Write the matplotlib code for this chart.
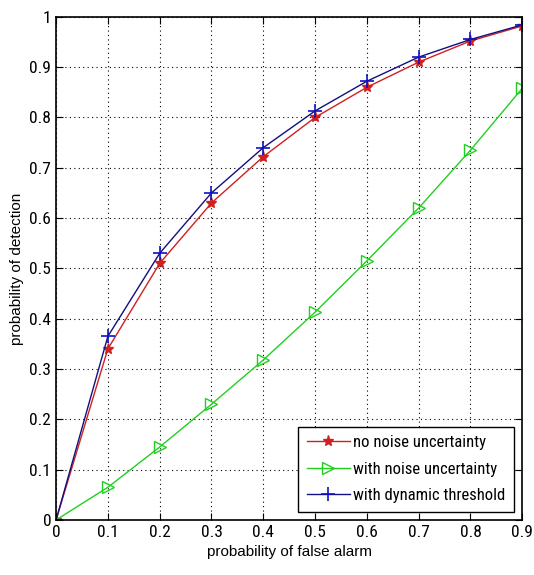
import matplotlib
matplotlib.use("Agg")
import matplotlib.pyplot as plt
from matplotlib import font_manager
import numpy as np

names = {f.name for f in font_manager.fontManager.ttflist}
narrow = None
for cand in ['Liberation Sans Narrow', 'DejaVu Sans Condensed', 'Roboto Condensed']:
    if cand in names:
        narrow = cand
        break
if narrow is None:
    narrow = 'Liberation Sans'
plt.rcParams['font.family'] = [narrow, 'DejaVu Sans']

pfa = [0, 0.1, 0.2, 0.3, 0.4, 0.5, 0.6, 0.7, 0.8, 0.9]
pd_no_noise = [0, 0.34, 0.51, 0.63, 0.722, 0.80, 0.86, 0.91, 0.952, 0.982]
pd_noise = [0, 0.065, 0.145, 0.23, 0.318, 0.413, 0.515, 0.62, 0.735, 0.858]
pd_dynamic = [0, 0.365, 0.53, 0.65, 0.74, 0.813, 0.872, 0.92, 0.955, 0.984]
xticks = [0, 0.1, 0.2, 0.3, 0.4, 0.5, 0.6, 0.7, 0.8, 0.9]
yticks = [0, 0.1, 0.2, 0.3, 0.4, 0.5, 0.6, 0.7, 0.8, 0.9, 1]

fig = plt.figure(figsize=(5.34, 5.75), dpi=100)
ax = fig.add_axes([0.105, 0.0957, 0.873, 0.875])

ax.plot(pfa, pd_no_noise, color='#d02020', lw=1, marker='*', ms=8, mec='#d02020',
        label='no noise uncertainty')
ax.plot(pfa, pd_noise, color='#20d020', lw=1, marker='>', ms=8, mfc='none', mec='#20d020',
        label='with noise uncertainty')
ax.plot(pfa, pd_dynamic, color='#101080', lw=1, marker='+', ms=10, mew=1.2, mec='#1010c0',
        label='with dynamic threshold')

ax.set_xlim(0, 0.9)
ax.set_ylim(0, 1)
ax.set_xticks(xticks)
ax.set_xticklabels([f'{t:g}' for t in xticks])
ax.set_yticks(yticks)
ax.set_yticklabels([f'{t:g}' for t in yticks])
ax.tick_params(direction='in', top=True, right=True, labelsize=12.5, length=5)
ax.grid(True, linestyle=(0, (1, 3)), color='black', lw=0.8)
for s in ax.spines.values():
    s.set_linewidth(1.2)

ax.set_xlabel('probability of false alarm', fontsize=11, family='Liberation Sans')
ax.set_ylabel('probability of detection', fontsize=11, family='Liberation Sans')

leg = ax.legend(loc='lower right', fontsize=12, fancybox=False, framealpha=1,
                edgecolor='black', handlelength=2.6, handletextpad=0.2,
                labelspacing=0.7, borderpad=0.5, borderaxespad=0.5)
leg.get_frame().set_linewidth(1.0)

fig.savefig('out.png', dpi=100)
